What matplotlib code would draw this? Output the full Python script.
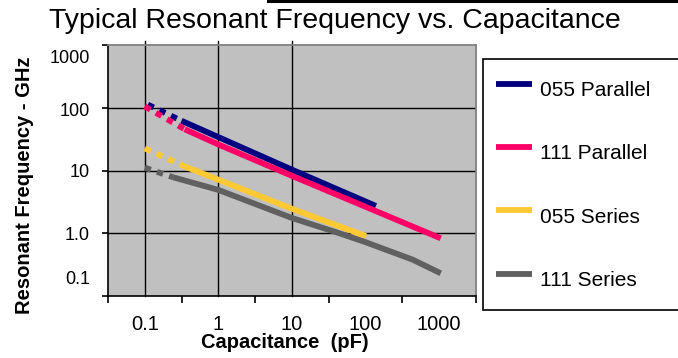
import numpy as np
import matplotlib
matplotlib.use('Agg')
import matplotlib.pyplot as plt
from matplotlib.lines import Line2D
from matplotlib.ticker import NullFormatter
from matplotlib.transforms import ScaledTranslation

plt.rcParams['font.family'] = ['Liberation Sans', 'DejaVu Sans']

# Series (capacitance in pF, frequency in GHz)
series_names = ['055 Parallel', '111 Parallel', '055 Series', '111 Series']
colors = ['#000080', '#FF0066', '#FFC933', '#606060']

# dotted lead-in segment of each curve
cap_dot = [[0.11, 0.315], [0.1, 0.348], [0.1, 0.356], [0.1, 0.242]]
freq_dot = [[112, 62], [105, 45.4], [22.5, 11.5], [11.1, 7.8]]

# solid part of each curve
cap_solid = [
    [0.315, 10, 138],
    [0.348, 1, 10, 1050],
    [0.356, 10, 101],
    [0.242, 1, 10, 44, 100, 435, 1050],
]
freq_solid = [
    [62, 10.3, 2.72],
    [45.4, 26, 8.2, 0.83],
    [11.5, 2.45, 0.9],
    [7.8, 4.9, 1.75, 1.0, 0.72, 0.38, 0.23],
]

x_labels = [0.1, 1, 10, 100, 1000]
x_label_text = ['0.1', '1', '10', '100', '1000']
y_ticks = [0.1, 1, 10, 100, 1000]
y_label_text = ['0.1', '1.0', '10', '100', '1000']
x_grid = [0.1, 1, 10]
y_grid = [1, 10, 100]

fig = plt.figure(figsize=(6.78, 3.58), dpi=100)
ax = fig.add_axes([108 / 678, 1 - 296 / 358, 368 / 678, 251 / 358])
ax.set_facecolor('#C0C0C0')
ax.set_xscale('log')
ax.set_yscale('log')
ax.set_xlim(x_labels[0] / np.sqrt(10), x_labels[-1] * np.sqrt(10))
ax.set_ylim(y_ticks[0], y_ticks[-1])

# black grid lines, only some of them
for v in x_grid:
    ax.axvline(v, ymin=0, ymax=1.015, color='k', lw=1.0, clip_on=False, zorder=1)
for v in y_grid:
    ax.axhline(v, color='k', lw=1.0, zorder=1)

handles = []
for i in range(len(series_names)):
    ax.plot(cap_dot[i], freq_dot[i], color=colors[i], lw=4.2,
            linestyle=(0, (1.1, 1.1)), dash_capstyle='butt', zorder=3)
    ln, = ax.plot(cap_solid[i], freq_solid[i], color=colors[i], lw=4.2,
                  solid_capstyle='butt', label=series_names[i], zorder=3)
    handles.append(ln)

for s in ['top', 'right']:
    ax.spines[s].set_color('#808080')
    ax.spines[s].set_linewidth(1.3)
for s in ['left', 'bottom']:
    ax.spines[s].set_color('k')
    ax.spines[s].set_linewidth(1.2)

# x axis: labels at decades, tick marks between them
ax.set_xticks(x_labels)
ax.set_xticklabels(x_label_text, fontsize=14.5)
half = [x_labels[0] / np.sqrt(10)] + [x * np.sqrt(10) for x in x_labels]
ax.set_xticks(half, minor=True)
ax.xaxis.set_minor_formatter(NullFormatter())
ax.tick_params(axis='x', which='major', length=0, pad=14)
ax.tick_params(axis='x', which='minor', length=5, width=1.2, direction='out')

ax.set_yticks(y_ticks)
ax.set_yticklabels(y_label_text, fontsize=13)
ax.set_yticks([], minor=True)
ax.tick_params(axis='y', which='major', length=4, width=1.2, pad=9)

# the end labels on the y axis sit inside the axis range
shifts = [13, 0, 0, -1.5, -8]
for lab, dy in zip(ax.get_yticklabels(), shifts):
    lab.set_transform(lab.get_transform() + ScaledTranslation(0, dy / 72, fig.dpi_scale_trans))

ax.set_xlabel('Capacitance  (pF)', fontweight='bold', fontsize=14.5)
ax.xaxis.set_label_coords(0.48, -0.148)
ax.set_ylabel('Resonant Frequency - GHz', fontweight='bold', fontsize=14.5)
ax.yaxis.set_label_coords(-0.2, 0.44)

fig.suptitle('Typical Resonant Frequency vs. Capacitance', x=335 / 678,
             y=1 - 28 / 358, va='baseline', fontsize=20.5)

leg = fig.legend(handles=handles, loc='upper left',
                 bbox_to_anchor=(483 / 678, 1 - 307 / 358, 230 / 678, 248 / 358),
                 mode='expand', fancybox=False, edgecolor='k', framealpha=1,
                 borderpad=0.6, handlelength=1.75, handleheight=2.3,
                 handletextpad=0.4, labelspacing=1.3, fontsize=15,
                 borderaxespad=0)
leg.get_frame().set_linewidth(1.2)

# black rule at the very top of the picture
fig.add_artist(Line2D([268 / 678, 1], [1 - 1.2 / 358] * 2, color='k', lw=2.2,
                      transform=fig.transFigure))

fig.savefig('out.png', dpi=100)
